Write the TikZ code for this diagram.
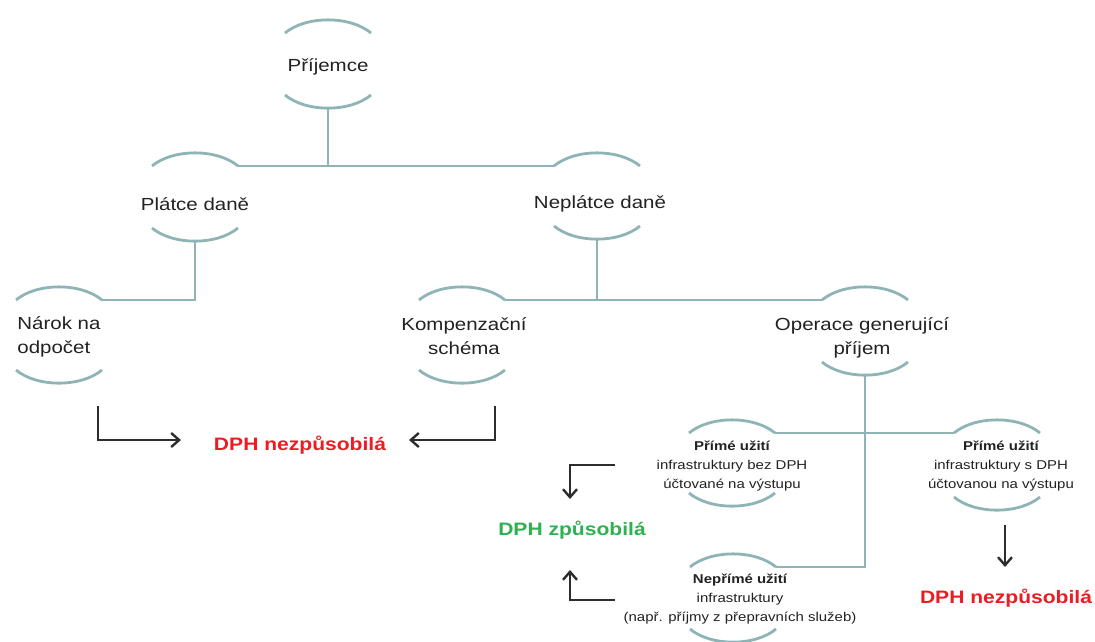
\documentclass[tikz,border=0pt]{standalone}
\usepackage{fontspec}
\setmainfont[FakeStretch=1.17]{Liberation Sans}
\usetikzlibrary{arrows.meta}
\definecolor{tealline}{RGB}{142,180,182}
\definecolor{txt}{RGB}{34,34,34}
\definecolor{redt}{RGB}{237,28,36}
\definecolor{greent}{RGB}{46,177,80}
\definecolor{arrowc}{RGB}{45,45,45}
% name, x, y, gap : two caps (top and bottom arcs) around a centre
\newcommand\capnode[4]{%
  \coordinate (#1) at (#2,#3);
  \coordinate (#1-tl) at ({#2-43},{#3-#4});
  \coordinate (#1-tr) at ({#2+43},{#3-#4});
  \coordinate (#1-t) at (#2,{#3-#4-13});
  \coordinate (#1-bl) at ({#2-43},{#3+#4});
  \coordinate (#1-br) at ({#2+43},{#3+#4});
  \coordinate (#1-b) at (#2,{#3+#4+13});
  \draw[arcline] (#1-tl) .. controls ({#2-22},{#3-#4-17.5}) and ({#2+22},{#3-#4-17.5}) .. (#1-tr);
  \draw[arcline] (#1-bl) .. controls ({#2-22},{#3+#4+17.5}) and ({#2+22},{#3+#4+17.5}) .. (#1-br);
}
\begin{document}
\begin{tikzpicture}[x=1pt,y=-1pt,
  arcline/.style={draw=tealline,line width=2.8pt},
  link/.style={draw=tealline,line width=2.8pt},
  flow/.style={draw=arrowc,line width=2.4pt,-{Straight Barb[length=8pt,width=14pt]}},
  big/.style={font=\fontsize{17.5}{24}\selectfont,text=txt,inner sep=0pt},
  small/.style={font=\fontsize{12.8}{19}\selectfont,text=txt,align=center,inner sep=0pt},
  verdict/.style={font=\fontsize{18}{22}\selectfont\bfseries,inner sep=0pt}]
\clip (0,0) rectangle (1095,641);
\fill[white] (0,0) rectangle (1095,641);

% caps
\capnode{pri}{328}{64}{31}
\capnode{plat}{195}{197}{31}
\capnode{neplat}{597}{196}{30}
\capnode{narok}{59}{335}{35}
\capnode{komp}{462}{335}{35}
\capnode{oper}{865}{331}{31}
\capnode{pl}{732}{463}{30}
\capnode{pr}{997}{465}{32}
\capnode{np}{733}{598}{31}

% texts
\node[big,anchor=base] (pri-t1) at (328,71) {Příjemce};
\node[big,anchor=base] (plat-t1) at (195,210) {Plátce daně};
\node[big,anchor=base] (neplat-t1) at (600,208.5) {Neplátce daně};
\node[big,align=left] (narok-t1) at (59,337) {Nárok na\\odpočet};
\node[big,align=center] (komp-t1) at (464,336) {Kompenzační\\schéma};
\node[big,align=center] (oper-t1) at (862,338) {Operace generující\\příjem};
\node[small] (pl-t1) at (732,466) {{\bfseries Přímé užití}\\infrastruktury bez DPH\\účtované na výstupu};
\node[small] (pr-t1) at (1001,466) {{\bfseries Přímé užití}\\infrastruktury s DPH\\účtovanou na výstupu};
\node[small] (np-t1) at (740,599) {{\bfseries Nepřímé užití}\\infrastruktury\\(např. příjmy z přepravních služeb)};

\node[verdict,text=redt] (nez1) at (300,445) {DPH nezpůsobilá};
\node[verdict,text=greent] (zp) at (572,530) {DPH způsobilá};
\node[verdict,text=redt] (nez2) at (1006,598) {DPH nezpůsobilá};

% tree links
\draw[link] (plat-tr) -- (neplat-tl);
\draw[link] (pri-b) -- (pri-b |- plat-tr);
\draw[link] (plat-b) -- (plat-b |- narok-tr) -- (narok-tr);
\draw[link] (komp-tr) -- (oper-tl);
\draw[link] (neplat-b) -- (neplat-b |- komp-tr);
\draw[link] (pl-tr) -- (pr-tl);
\draw[link] (oper-b) -- (oper-b |- np-tr) -- (np-tr);

% flow arrows
\coordinate (a1s) at (98,406);
\coordinate (a1e) at (181,440);
\coordinate (a2s) at (495,406);
\coordinate (a2e) at (409,440);
\coordinate (a3s) at (615,465);
\coordinate (a3e) at (570,499);
\coordinate (a4s) at (615,600);
\coordinate (a4e) at (570,570);
\coordinate (a5s) at (1005,525);
\coordinate (a5e) at (1005,567);
\draw[flow] (a1s) |- (a1e);
\draw[flow] (a2s) |- (a2e);
\draw[flow] (a3s) -| (a3e);
\draw[flow] (a4s) -| (a4e);
\draw[flow] (a5s) -- (a5e);
\end{tikzpicture}
\end{document}
